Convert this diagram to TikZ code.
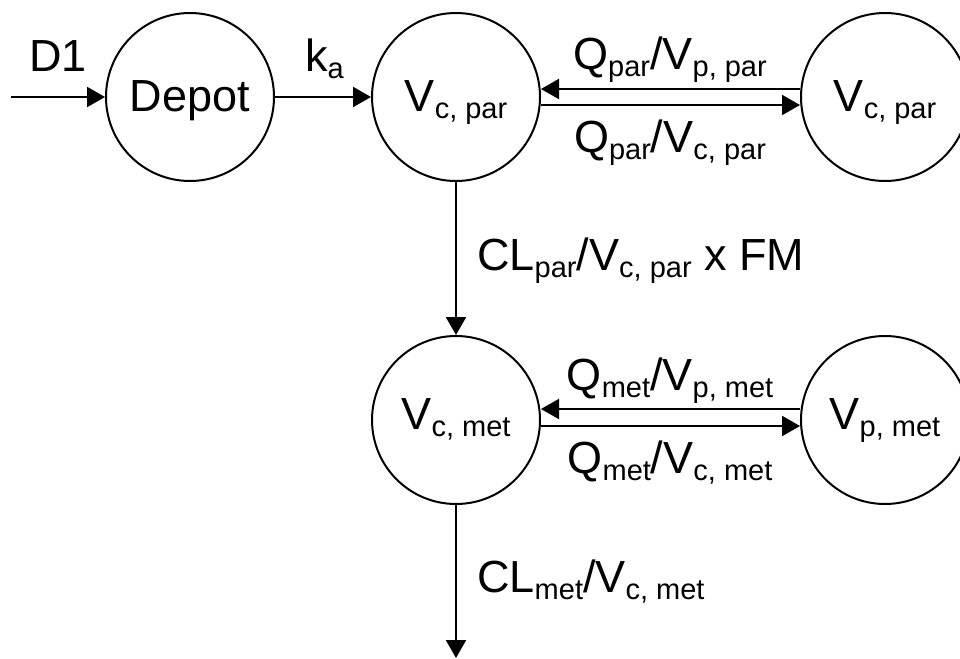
\documentclass[tikz,border=0pt]{standalone}
\usepackage{fontspec}
\setmainfont{Liberation Sans}
\usetikzlibrary{arrows.meta}

% lowered, smaller subscript text
\newcommand{\sbs}[1]{\raisebox{-7pt}{\fontsize{29}{29}\selectfont #1}}

\begin{document}
\begin{tikzpicture}[x=1pt,y=-1pt,
  every node/.style={font=\fontsize{45}{54}\selectfont},
  comp/.style={circle,draw,line width=2pt,minimum size=168pt,inner sep=0pt,
               text height=32pt},
  comphi/.style={comp,text depth=3pt},
  complo/.style={comp,text depth=13pt},
  lbl/.style={inner sep=0pt,anchor=base west},
  lblc/.style={inner sep=0pt,anchor=base},
  flow/.style={line width=2pt,-{Triangle[length=18pt,width=20pt]}},
  link/.style={line width=2pt}]
\useasboundingbox (0,0) rectangle (960,658);

% compartments
\node[comphi] (depot) at (190,97) {Depot};
\node[comphi] (cpar)  at (456,97) {V\sbs{c, par}};
\node[comphi] (ppar)  at (885,97) {V\sbs{c, par}};
\node[complo] (cmet)  at (456,420) {V\sbs{c, met}};
\node[complo] (pmet)  at (885,420) {V\sbs{p, met}};

\coordinate (dose) at (11,97);
\coordinate (elim) at (456,658);

% flows
\draw[flow] (dose) -- (depot);
\draw[flow] (depot) -- (cpar);
\draw[flow] ([yshift=8pt]ppar.west) -- ([yshift=8pt]cpar.east);
\draw[flow] ([yshift=-8pt]cpar.east) -- ([yshift=-8pt]ppar.west);
\draw[flow] (cpar) -- (cmet);
\draw[flow] ([yshift=11pt]pmet.west) -- ([yshift=11pt]cmet.east);
\draw[flow] ([yshift=-6pt]cmet.east) -- ([yshift=-6pt]pmet.west);
\draw[flow] (cmet) -- (elim);

% rate labels
\node[lbl]  (ld1)  at (29,72)   {D1};
\node[lbl]  (lka)  at (305,72)  {k\sbs{a}};
\node[lblc] (lqp1) at (670,70)  {Q\sbs{par}/V\sbs{p, par}};
\node[lblc] (lqp2) at (670,152) {Q\sbs{par}/V\sbs{c, par}};
\node[lbl]  (lclp) at (477,270) {CL\sbs{par}/V\sbs{c, par} x FM};
\node[lblc] (lqm1) at (670,390) {Q\sbs{met}/V\sbs{p, met}};
\node[lblc] (lqm2) at (670,473) {Q\sbs{met}/V\sbs{c, met}};
\node[lbl]  (lclm) at (477,592) {CL\sbs{met}/V\sbs{c, met}};
\end{tikzpicture}
\end{document}
